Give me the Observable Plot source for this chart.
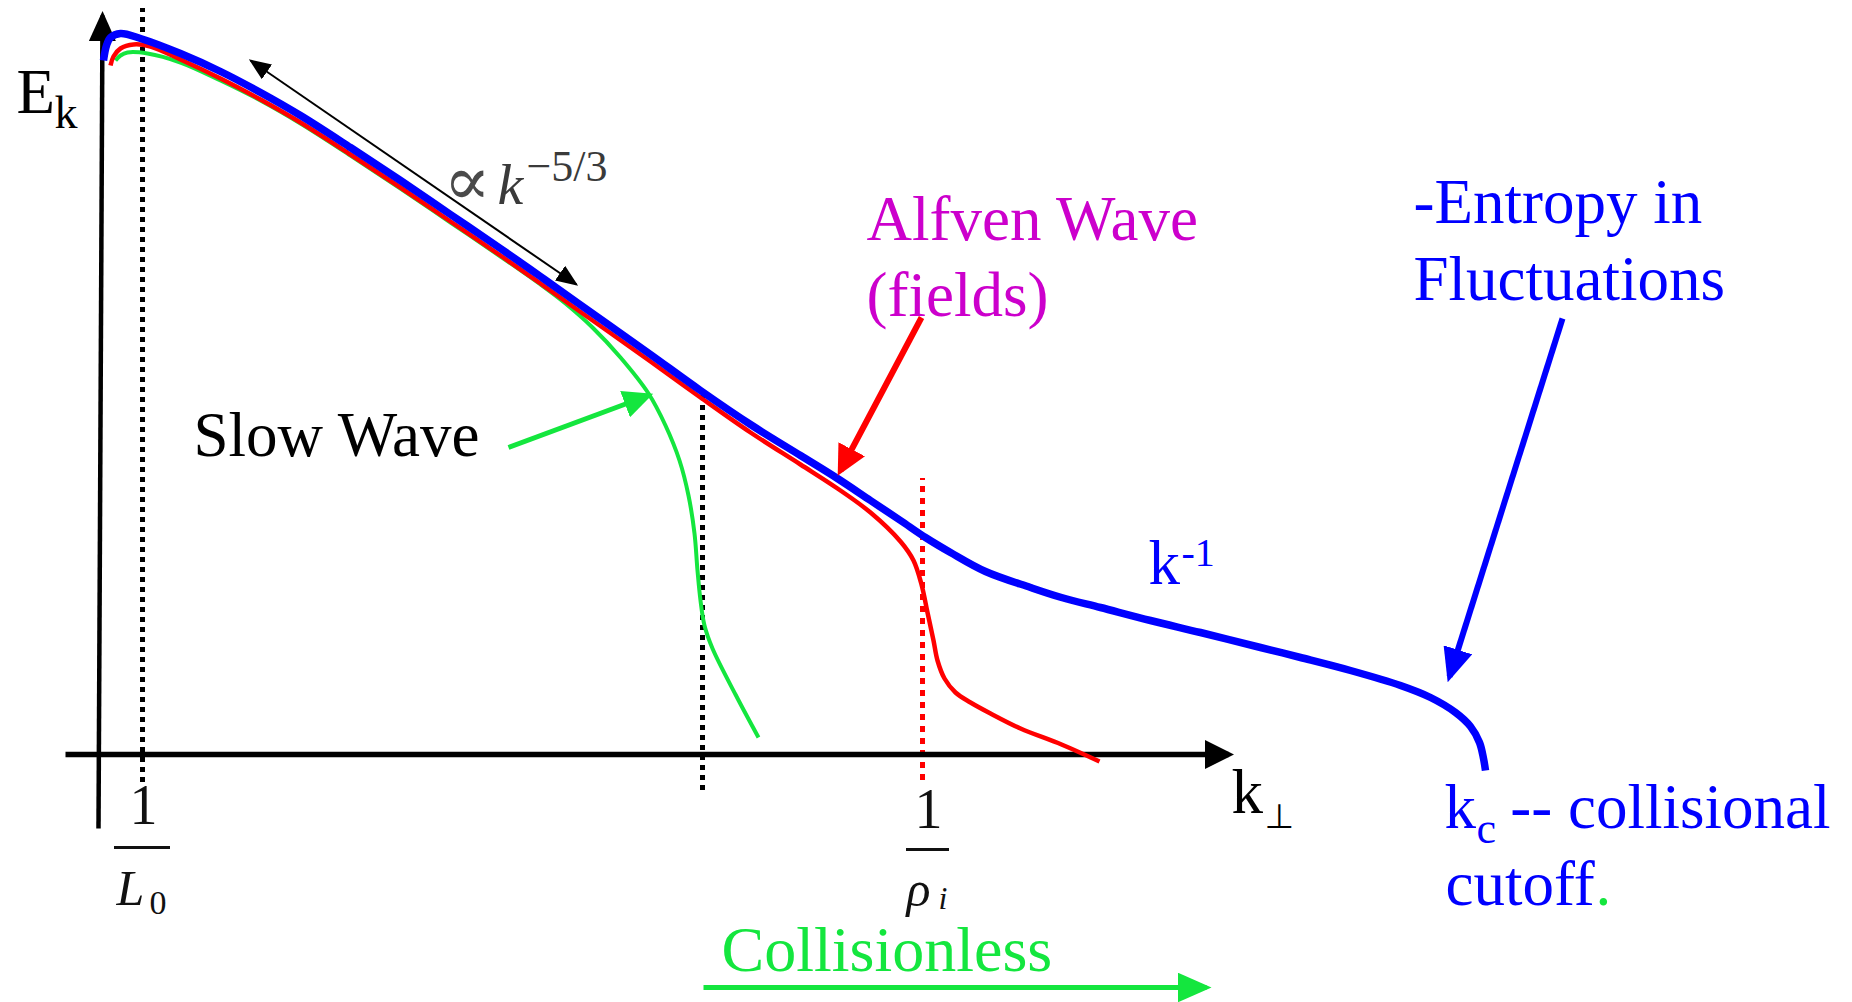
<!DOCTYPE html>
<html>
<head>
<meta charset="utf-8">
<script src="https://cdn.jsdelivr.net/npm/d3@7"></script>
<script src="https://cdn.jsdelivr.net/npm/@observablehq/plot@0.6"></script>
<style>
  html, body { margin: 0; padding: 0; background: #fff; }
  #chart svg { display: block; }
</style>
</head>
<body>
<div id="chart"></div>
<script>
// Perpendicular wavenumber k (horizontal) against spectral energy E (vertical), arbitrary units.
// Each spectrum is a list of [k, E] pairs.
const entropySpectrum = [
  [5,694],[8,709],[12,717],[22,721],[42,716],[82,701],[122,683],[162,662],[202,639],[252,607],
  [302,574],[352,540],[402,506],[442,478],[480,451],[514,427],[552,400],[602,364],[652,330],
  [702,299],[739,276],[772,254],[802,234],[827,217],[852,202],[887,183],[932,167],[963,157],
  [1002,147],[1052,134],[1102,122],[1162,107],[1202,97],[1252,84],[1302,69],[1332,57],[1357,42],
  [1372,28],[1381,12],[1385,-4],[1387,-16]
];
const alfvenSpectrum = [
  [12,689],[15,698],[22,706],[35,710],[52,708],[82,695],[122,676],[162,655],[202,632],[252,600],
  [302,567],[352,533],[402,499],[442,471],[480,444],[514,420],[552,393],[602,357],[652,322],
  [702,290],[739,266],[772,242],[802,213],[815,194],[823,170],[829,142],[835,114],[839,94],
  [846,76],[857,62],[872,52],[892,41],[922,26],[963,10],[1001,-7]
];
const slowSpectrum = [
  [17,694],[22,699],[29,702],[49,701],[82,692],[122,674],[162,654],[202,631],[252,599],[302,566],
  [352,532],[402,498],[442,470],[467,451],[494,427],[522,397],[550,361],[567,329],[581,294],
  [590,259],[596,221],[599,184],[602,154],[606,129],[614,106],[637,60],[660,17]
];

// Characteristic wavenumbers: outer scale 1/L0, slow-wave damping, ion gyroscale 1/rho_i
const scaleK = [44, 604, 824];
const tickDenominators = ["L", "ρ"];
const tickSubscripts = ["0", "i"];

// Annotation texts
const slowLabel = "Slow Wave";
const alfvenLabel = ["Alfven Wave", "(fields)"];
const entropyLabel = ["-Entropy in", "Fluctuations"];
const cutoffLabel = ["k", "c", " -- collisional", "cutoff", "."];
const collisionlessLabel = "Collisionless";

// Guide arrows as [k, E] start/end pairs
const inertialArrow = [[152,694],[478,470]];
const alfvenArrow = [[823,437],[742,284]];
const slowArrow = [[410,307],[550,359]];
const entropyArrow = [[1464,436],[1351,78]];
const kAxis = [[-33,0],[1130,0]];
const eAxis = [[0,-74],[4,739]];
const collisionlessArrow = [[605,-233],[1108,-233]];

const BLUE = "#0000ff", RED = "#ff0000", GREEN = "#14e63e", MAGENTA = "#cc00cc";
const serif = "'Liberation Serif', 'Times New Roman', serif";

// Filled triangular arrowhead marker
function head(len, wid, back) {
  return (color, context) => {
    const doc = (context && context.document) || document;
    const ns = "http://www.w3.org/2000/svg";
    const m = doc.createElementNS(ns, "marker");
    m.setAttribute("viewBox", `0 ${-wid / 2} ${len} ${wid}`);
    m.setAttribute("markerUnits", "userSpaceOnUse");
    m.setAttribute("markerWidth", len);
    m.setAttribute("markerHeight", wid);
    m.setAttribute("refX", len - back);
    m.setAttribute("refY", 0);
    m.setAttribute("orient", "auto-start-reverse");
    const p = doc.createElementNS(ns, "path");
    p.setAttribute("d", `M0,${-wid / 2}L${len},0L0,${wid / 2}Z`);
    p.setAttribute("fill", color);
    p.setAttribute("stroke", "none");
    m.appendChild(p);
    return m;
  };
}

const px = d => d[0], py = d => d[1];

function arrow(points, color, width, marker, both = false) {
  return Plot.line(points, {
    x: px, y: py, stroke: color, strokeWidth: width, strokeLinecap: "butt",
    markerEnd: marker, markerStart: both ? marker : undefined
  });
}

function label(text, k, E, opts = {}) {
  return Plot.text([text], {
    x: k, y: E, text: d => d, textAnchor: "start", lineAnchor: "bottom",
    fontFamily: serif, fontSize: 63, fill: "#000", ...opts
  });
}

const chart = Plot.plot({
  width: 1852,
  height: 1002,
  margin: 0,
  x: {domain: [-98, 1754], range: [0, 1852], axis: null},
  y: {domain: [-248, 754], range: [1002, 0], axis: null},
  marks: [
    // scale markers
    Plot.ruleX([scaleK[0]], {x: d => d, y1: -28, y2: 746, stroke: "#000", strokeWidth: 5, strokeDasharray: "5,5"}),
    Plot.ruleX([scaleK[1]], {x: d => d, y1: -36, y2: 362, stroke: "#000", strokeWidth: 5, strokeDasharray: "5,5"}),
    Plot.ruleX([scaleK[2]], {x: d => d, y1: -26, y2: 276, stroke: RED, strokeWidth: 5, strokeDasharray: "6,6"}),

    // axes
    arrow(kAxis, "#000", 5.5, head(29, 29, 5.5)),
    arrow(eAxis, "#000", 4.5, head(30, 27, 4.5)),

    // spectra
    Plot.line(slowSpectrum, {x: px, y: py, stroke: GREEN, strokeWidth: 4, curve: "catmull-rom", strokeLinecap: "butt"}),
    Plot.line(alfvenSpectrum, {x: px, y: py, stroke: RED, strokeWidth: 4.5, curve: "catmull-rom", strokeLinecap: "butt"}),
    Plot.line(entropySpectrum, {x: px, y: py, stroke: BLUE, strokeWidth: 7.5, curve: "catmull-rom", strokeLinecap: "butt"}),

    // guide arrows
    arrow(inertialArrow, "#000", 2, head(22, 18, 2), true),
    arrow(alfvenArrow, RED, 6, head(30, 30, 6)),
    arrow(slowArrow, GREEN, 5, head(30, 28, 5)),
    arrow(entropyArrow, BLUE, 6, head(34, 30, 6)),
    arrow(collisionlessArrow, GREEN, 5, head(34, 30, 5)),

    // axis titles
    label("E", -82, 642),
    label("k", -44, 627, {fontSize: 46}),
    label("k", 1133, -58),
    label("⊥", 1166, -73, {fontSize: 34, fontFamily: "'DejaVu Sans', sans-serif"}),

    // tick fractions 1/L0 and 1/rho_i
    Plot.text(["1"], {x: scaleK[0] + 1, y: -69, text: d => d, textAnchor: "middle", lineAnchor: "bottom", fontFamily: serif, fontSize: 56, fill: "#111"}),
    Plot.ruleY([-93], {y: d => d, x1: 16, x2: 72, stroke: "#111", strokeWidth: 3}),
    label(tickDenominators[0], 18, -150, {fontSize: 50, fontStyle: "italic", fill: "#111"}),
    label(tickSubscripts[0], 51, -159, {fontSize: 34, fill: "#111"}),
    Plot.text(["1"], {x: scaleK[2] + 6, y: -73, text: d => d, textAnchor: "middle", lineAnchor: "bottom", fontFamily: serif, fontSize: 56, fill: "#111"}),
    Plot.ruleY([-95], {y: d => d, x1: 808, x2: 851, stroke: "#111", strokeWidth: 3}),
    label(tickDenominators[1], 808, -151, {fontSize: 50, fontStyle: "italic", fill: "#111"}),
    label(tickSubscripts[1], 840, -154, {fontSize: 32, fontStyle: "italic", fill: "#111"}),

    // inertial range slope
    label("∝", 345, 550, {fontSize: 70, fontFamily: "'DejaVu Serif', serif", fill: "#4a4a4a"}),
    label("k", 399, 551, {fontSize: 58, fontStyle: "italic", fill: "#3a3a3a"}),
    label("−5/3", 428, 574, {fontSize: 44, fill: "#3a3a3a"}),

    // annotations
    label(slowLabel, 95, 299),
    label(alfvenLabel[0], 768, 515, {fill: MAGENTA}),
    label(alfvenLabel[1], 768, 439, {fill: MAGENTA}),
    label(entropyLabel[0], 1315, 532, {fill: BLUE}),
    label(entropyLabel[1], 1315, 455, {fill: BLUE}),
    label("k", 1050, 171, {fill: BLUE}),
    label("-1", 1083, 189, {fill: BLUE, fontSize: 40}),
    label(cutoffLabel[0], 1346, -73, {fill: BLUE}),
    label(cutoffLabel[1], 1378, -88, {fill: BLUE, fontSize: 44}),
    label(cutoffLabel[2], 1396, -73, {fill: BLUE}),
    label(cutoffLabel[3], 1347, -150, {fill: BLUE}),
    label(cutoffLabel[4], 1497, -150, {fill: GREEN}),
    label(collisionlessLabel, 623, -216, {fill: GREEN, fontSize: 64})
  ]
});

document.getElementById("chart").appendChild(chart);
</script>
</body>
</html>
